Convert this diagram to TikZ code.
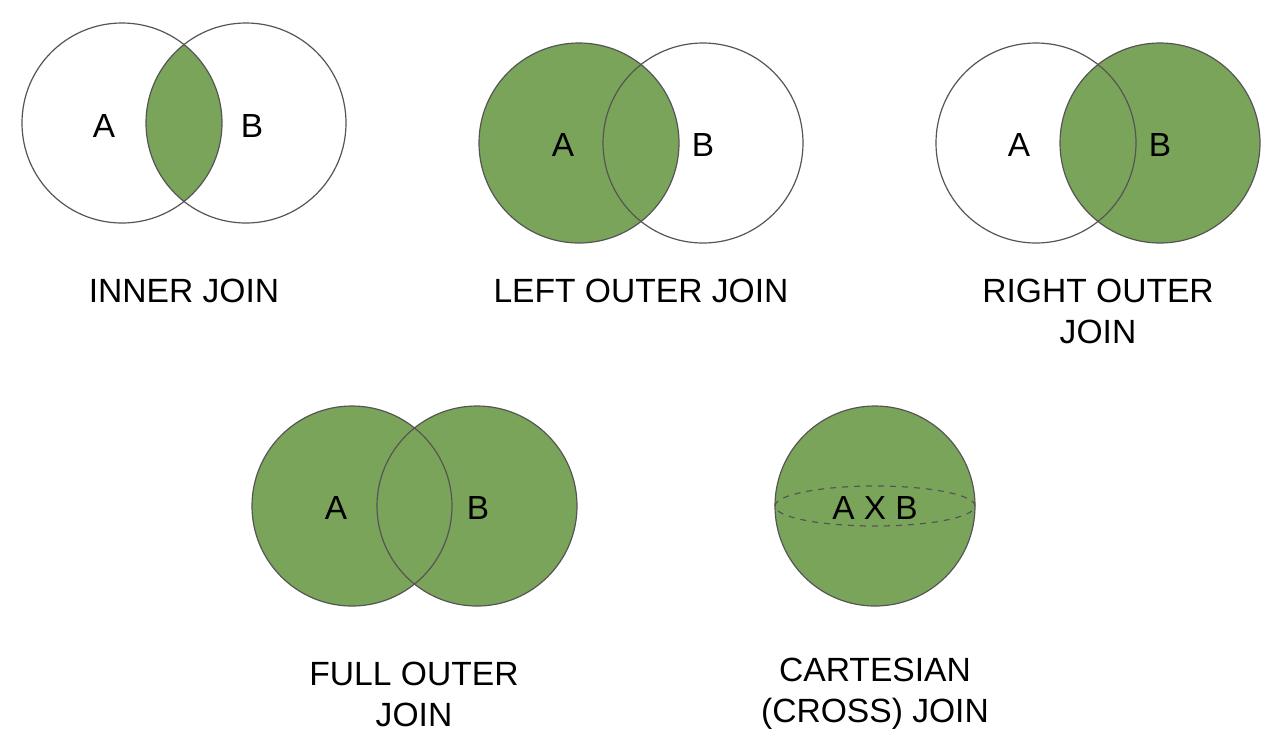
\documentclass[tikz,border=0pt]{standalone}
\usepackage{fontspec}
\setmainfont{Liberation Sans}
\definecolor{joingreen}{RGB}{122,164,90}
\definecolor{edge}{RGB}{85,85,85}
\begin{document}
\begin{tikzpicture}[x=0.5pt,y=-0.5pt,
  ring/.style={draw=edge,line width=0.6pt},
  setlbl/.style={font=\fontsize{16.7}{20.5}\selectfont,inner sep=0pt},
  caption/.style={font=\fontsize{16.8}{20.5}\selectfont,align=center,inner sep=0pt}]
\useasboundingbox (0,0) rectangle (1280,746);
\fill[white] (0,0) rectangle (1280,746);
% INNER JOIN
\begin{scope}
  \clip (122,123) circle[radius=50pt];
  \fill[joingreen] (246,123) circle[radius=50pt];
\end{scope}
\draw[ring] (122,123) circle[radius=50pt];
\draw[ring] (246,123) circle[radius=50pt];
\node[setlbl] (ia) at (104,126) {A};
\node[setlbl] (ib) at (252,126) {B};
\node[caption] (inner) at (184,291) {INNER JOIN};
% LEFT OUTER JOIN
\fill[joingreen] (579,143) circle[radius=50pt];
\draw[ring] (579,143) circle[radius=50pt];
\draw[ring] (703,143) circle[radius=50pt];
\node[setlbl] (la) at (563,145) {A};
\node[setlbl] (lb) at (703,145) {B};
\node[caption] (left) at (641,291) {LEFT OUTER JOIN};
% RIGHT OUTER JOIN
\fill[joingreen] (1160,143) circle[radius=50pt];
\draw[ring] (1036,143) circle[radius=50pt];
\draw[ring] (1160,143) circle[radius=50pt];
\node[setlbl] (ra) at (1019,145) {A};
\node[setlbl] (rb) at (1160,145) {B};
\node[caption] (right) at (1098,311) {RIGHT OUTER\\JOIN};
% FULL OUTER JOIN
\fill[joingreen] (352,506) circle[radius=50pt];
\fill[joingreen] (477,506) circle[radius=50pt];
\draw[ring] (352,506) circle[radius=50pt];
\draw[ring] (477,506) circle[radius=50pt];
\node[setlbl] (fa) at (336,508) {A};
\node[setlbl] (fb) at (478,508) {B};
\node[caption] (full) at (414,694) {FULL OUTER\\JOIN};
% CARTESIAN JOIN
\fill[joingreen] (875,506) circle[radius=50pt];
\draw[ring] (875,506) circle[radius=50pt];
\draw[draw=edge,line width=0.6pt,dashed] (875,506) ellipse[x radius=50pt,y radius=10pt];
\node[setlbl] (axb) at (875,508) {A X B};
\node[caption] (cart) at (875,694) {CARTESIAN\\(CROSS) JOIN};
\end{tikzpicture}
\end{document}
